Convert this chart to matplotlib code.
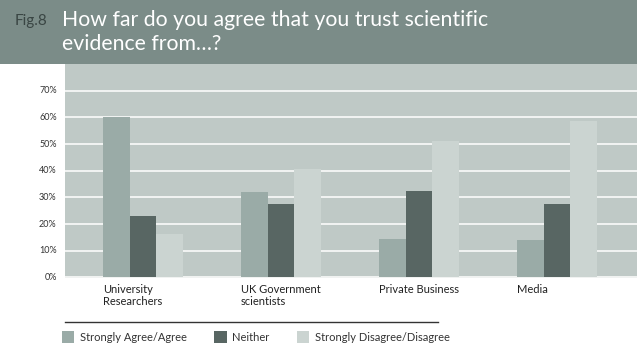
import matplotlib
matplotlib.use("Agg")
import matplotlib.pyplot as plt
import matplotlib.patches as mpatches
import matplotlib.lines as mlines
import numpy as np

plt.rcParams['font.family'] = ['Lato', 'DejaVu Sans']

categories = ["University\nResearchers", "UK Government\nscientists", "Private Business", "Media"]
series_names = ["Strongly Agree/Agree", "Neither", "Strongly Disagree/Disagree"]
agree = [60, 32, 14.3, 13.9]
neither = [23, 27.5, 32.4, 27.5]
disagree = [16.2, 40.6, 51.3, 58.8]
yticks = [0, 10, 20, 30, 40, 50, 60, 70]

colors = ["#9aaba7", "#586663", "#cbd4d1"]
header_col = "#7b8c88"
bg_col = "#bfc9c6"

W, H = 637, 353
fig = plt.figure(figsize=(W / 100, H / 100), dpi=100)
fig.patch.set_facecolor("white")

# header band
fig.patches.append(mpatches.Rectangle((0, 1 - 64 / H), 1, 64 / H, transform=fig.transFigure,
                                      facecolor=header_col, edgecolor="none", zorder=0))
fig.text(15 / W, 1 - 21 / H, "Fig.8", color="#3a4644", fontsize=11, va="center", ha="left")
fig.text(62 / W, 1 - 32 / H, "How far do you agree that you trust scientific\nevidence from\u2026?",
         color="white", fontsize=15.3, va="center", ha="left", linespacing=1.2)

ax = fig.add_axes([65 / W, (H - 278) / H, (W - 65) / W, (278 - 64) / H])
ax.set_facecolor(bg_col)
for s in ax.spines.values():
    s.set_visible(False)

x = np.arange(len(categories))
w = 0.193
for i, (vals, c) in enumerate(zip([agree, neither, disagree], colors)):
    ax.bar(x + (i - 1) * w, vals, width=w, color=c, zorder=3, label=series_names[i])

ax.set_ylim(-0.2, 80)
ax.set_xlim(-0.564, 3.581)
ax.set_yticks(yticks)
ax.set_yticklabels([f"{v}%" for v in yticks], fontsize=6.5, color="#333333")
ax.yaxis.grid(True, color="white", linewidth=1.1, zorder=1)
ax.set_axisbelow(True)
ax.tick_params(axis="y", length=0, pad=6)
for lbl in ax.get_yticklabels():
    lbl.set_va("center")
ax.set_xticks(x - 1.5 * w)
ax.set_xticklabels(categories, fontsize=8, color="#222222", ha="left", linespacing=1.2)
ax.tick_params(axis="x", length=0, pad=4)

# legend rule and legend
fig.lines.append(mlines.Line2D([65 / W, 438 / W], [1 - 322 / H, 1 - 322 / H], transform=fig.transFigure,
                               color="#333333", linewidth=1))
handles = [mpatches.Patch(facecolor=c, edgecolor="none", label=n) for c, n in zip(colors, series_names)]
fig.legend(handles=handles, loc="center left", bbox_to_anchor=(62 / W, 1 - 337 / H), ncol=3,
           frameon=False, fontsize=8, handlelength=1.1, handleheight=1.2, handletextpad=0.5,
           columnspacing=2.5, borderpad=0, borderaxespad=0, labelcolor="#333333")

fig.savefig("out.png", dpi=100)
